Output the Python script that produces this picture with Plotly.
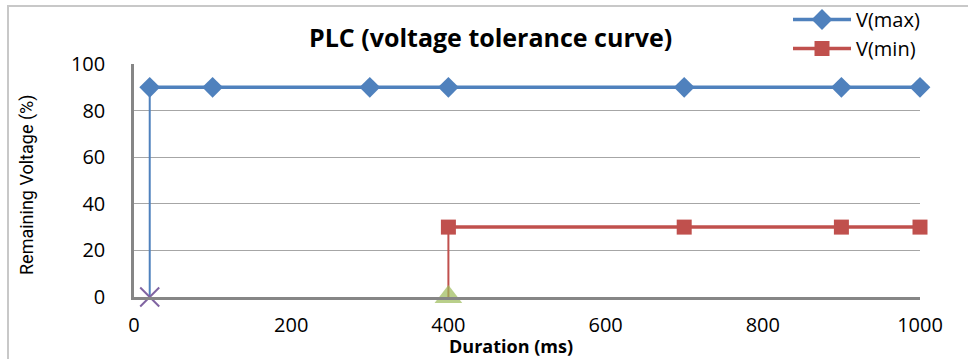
import plotly.graph_objects as go

# Data
vmax_x = [20, 100, 300, 400, 700, 900, 1000]
vmax_y = [90, 90, 90, 90, 90, 90, 90]
vmin_x = [400, 700, 900, 1000]
vmin_y = [30, 30, 30, 30]
drop1_x = [20, 20]
drop1_y = [0, 90]
drop2_x = [400, 400]
drop2_y = [0, 30]

x_ticks = [0, 200, 400, 600, 800, 1000]
y_ticks = [0, 20, 40, 60, 80, 100]

BLUE = "#4F81BD"
RED = "#C0504D"
PURPLE = "#8064A2"
GREEN = "#9BBB59"
FONT = "Open Sans, DejaVu Sans, sans-serif"

fig = go.Figure()

fig.add_trace(go.Scatter(
    x=drop1_x, y=drop1_y, mode="lines+markers", showlegend=False,
    line=dict(color=BLUE, width=2),
    marker=dict(symbol=["x-thin", "circle"], size=[19, 0.1],
                color=PURPLE, line=dict(color=PURPLE, width=2), opacity=1),
    cliponaxis=False,
))
fig.add_trace(go.Scatter(
    x=drop2_x, y=drop2_y, mode="lines+markers", showlegend=False,
    line=dict(color=RED, width=2),
    marker=dict(symbol=["triangle-up", "circle"], size=[24, 0.1], color=GREEN,
                line=dict(width=0)),
    cliponaxis=False,
))
fig.add_trace(go.Scatter(
    x=vmax_x, y=vmax_y, mode="lines+markers", name="V(max)",
    line=dict(color=BLUE, width=3.5),
    marker=dict(symbol="diamond", size=16, color=BLUE),
    cliponaxis=False,
))
fig.add_trace(go.Scatter(
    x=vmin_x, y=vmin_y, mode="lines+markers", name="V(min)",
    line=dict(color=RED, width=3.5),
    marker=dict(symbol="square", size=15, color=RED),
    cliponaxis=False,
))

L, R, T, B = 134, 48, 64, 62
W, H = 968, 359
pw = W - L - R
ph = H - T - B

def px(x):
    return (x - L) / pw

def py(y):
    return (H - B - y) / ph

fig.update_layout(
    width=W, height=H,
    margin=dict(l=L, r=R, t=T, b=B, autoexpand=False),
    paper_bgcolor="white", plot_bgcolor="white",
    font=dict(family=FONT, size=18, color="#000000"),
    showlegend=True,
    legend=dict(
        x=px(788), y=py(0), xanchor="left", yanchor="top",
        font=dict(family=FONT, size=20, color="#000000"),
        itemwidth=58, tracegroupgap=0, bgcolor="rgba(0,0,0,0)",
    ),
    xaxis=dict(
        range=[0, 1000], tickvals=x_ticks, ticktext=[str(v) for v in x_ticks],
        showgrid=False, zeroline=False, showline=True, linecolor="#868686",
        linewidth=2.5, ticks="", tickfont=dict(family=FONT, size=20, color="#000000"),
        ticklabelstandoff=8,
    ),
    yaxis=dict(
        range=[0, 100], tickvals=y_ticks, ticktext=[str(v) for v in y_ticks],
        showgrid=True, gridcolor="#A6A6A6", gridwidth=1, zeroline=False,
        showline=True, linecolor="#868686", linewidth=2.5, ticks="",
        tickfont=dict(family=FONT, size=20, color="#000000"),
        ticklabelstandoff=22,
    ),
    annotations=[
        dict(text="<b>PLC (voltage tolerance curve)</b>", xref="paper", yref="paper",
             x=px(490), y=py(37), xanchor="center", yanchor="middle", showarrow=False,
             font=dict(family=FONT, size=25, color="#000000")),
        dict(text="<b>Duration (ms)</b>", xref="paper", yref="paper",
             x=px(511), y=py(346), xanchor="center", yanchor="middle", showarrow=False,
             font=dict(family=FONT, size=18, color="#000000")),
        dict(text="Remaining Voltage (%)", xref="paper", yref="paper",
             x=px(27), y=py(185), xanchor="center", yanchor="middle", showarrow=False,
             textangle=-90,
             font=dict(family="Liberation Sans Narrow, Roboto, sans-serif", size=18, color="#000000")),
    ],
    shapes=[
        dict(type="rect", xref="paper", yref="paper",
             x0=px(8), x1=px(1100), y0=py(6), y1=py(500),
             line=dict(color="#C8C8C8", width=2), layer="below"),
    ],
)

fig.write_html("out.html")
